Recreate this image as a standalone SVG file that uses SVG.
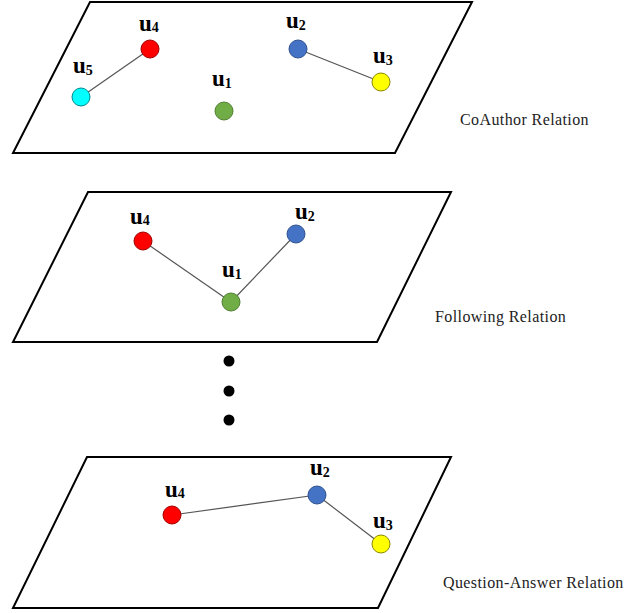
<svg xmlns="http://www.w3.org/2000/svg" width="626" height="613" viewBox="0 0 626 613">
<style>
.plane{fill:#fff;stroke:#000;stroke-width:2}
.edge{stroke:#555;stroke-width:1.2;fill:none}
.n{stroke-width:1}
.red{fill:#ff0000;stroke:#a00000}
.blue{fill:#4472c4;stroke:#2f528f}
.green{fill:#70ad47;stroke:#507e32}
.yellow{fill:#ffff00;stroke:#8a8a00}
.cyan{fill:#00ffff;stroke:#008b8b}
.lbl{font-family:"Liberation Serif",serif;font-weight:bold;font-size:23px;fill:#000}
.sub{font-size:14px}
.rel{font-family:"Liberation Serif",serif;font-size:16px;letter-spacing:0.4px;fill:#222}
</style>
<g id="planes">
<polygon class="plane" points="90,2 472,2 395,153 13,153"/>
<polygon class="plane" points="88,192 451,192 377,342 13,342"/>
<polygon class="plane" points="87,457 451,457 378,608 13,608"/>
</g>
<g id="connectors">
<line class="edge" x1="150" y1="49" x2="81" y2="97"/>
<line class="edge" x1="298" y1="49" x2="381" y2="82"/>
<line class="edge" x1="143" y1="241" x2="231" y2="302"/>
<line class="edge" x1="296" y1="234" x2="231" y2="302"/>
<line class="edge" x1="172" y1="515" x2="317" y2="495"/>
<line class="edge" x1="317" y1="495" x2="381" y2="544"/>
</g>
<g id="p1-u4"><circle class="n red" cx="150" cy="49" r="9"/><text class="lbl" x="139" y="31">u<tspan class="sub" dy="1">4</tspan></text></g>
<g id="p1-u5"><circle class="n cyan" cx="81" cy="97" r="9"/><text class="lbl" x="73" y="73">u<tspan class="sub" dy="2">5</tspan></text></g>
<g id="p1-u1"><circle class="n green" cx="224" cy="111" r="9"/><text class="lbl" x="212" y="86">u<tspan class="sub" dy="2">1</tspan></text></g>
<g id="p1-u2"><circle class="n blue" cx="298" cy="49" r="9"/><text class="lbl" x="286" y="28">u<tspan class="sub" dy="2">2</tspan></text></g>
<g id="p1-u3"><circle class="n yellow" cx="381" cy="82" r="9"/><text class="lbl" x="373" y="63">u<tspan class="sub" dy="2">3</tspan></text></g>
<g id="p1-label"><text class="rel" x="460" y="125">CoAuthor Relation</text></g>

<g id="p2-u4"><circle class="n red" cx="143" cy="241" r="9"/><text class="lbl" x="130" y="224">u<tspan class="sub" dy="1">4</tspan></text></g>
<g id="p2-u2"><circle class="n blue" cx="296" cy="234" r="9"/><text class="lbl" x="295" y="219">u<tspan class="sub" dy="2">2</tspan></text></g>
<g id="p2-u1"><circle class="n green" cx="231" cy="302" r="9"/><text class="lbl" x="222" y="277">u<tspan class="sub" dy="2">1</tspan></text></g>
<g id="p2-label"><text class="rel" x="435" y="322">Following Relation</text></g>

<g id="dots">
<circle cx="229" cy="361" r="5.5" fill="#000"/>
<circle cx="229" cy="391" r="5.5" fill="#000"/>
<circle cx="229" cy="420" r="5.5" fill="#000"/>
</g>

<g id="p3-u4"><circle class="n red" cx="172" cy="515" r="9"/><text class="lbl" x="165" y="497">u<tspan class="sub" dy="1">4</tspan></text></g>
<g id="p3-u2"><circle class="n blue" cx="317" cy="495" r="9"/><text class="lbl" x="310" y="475">u<tspan class="sub" dy="2">2</tspan></text></g>
<g id="p3-u3"><circle class="n yellow" cx="381" cy="544" r="9"/><text class="lbl" x="373" y="528">u<tspan class="sub" dy="2">3</tspan></text></g>
<g id="p3-label"><text class="rel" x="443" y="588">Question-Answer Relation</text></g>
</svg>
